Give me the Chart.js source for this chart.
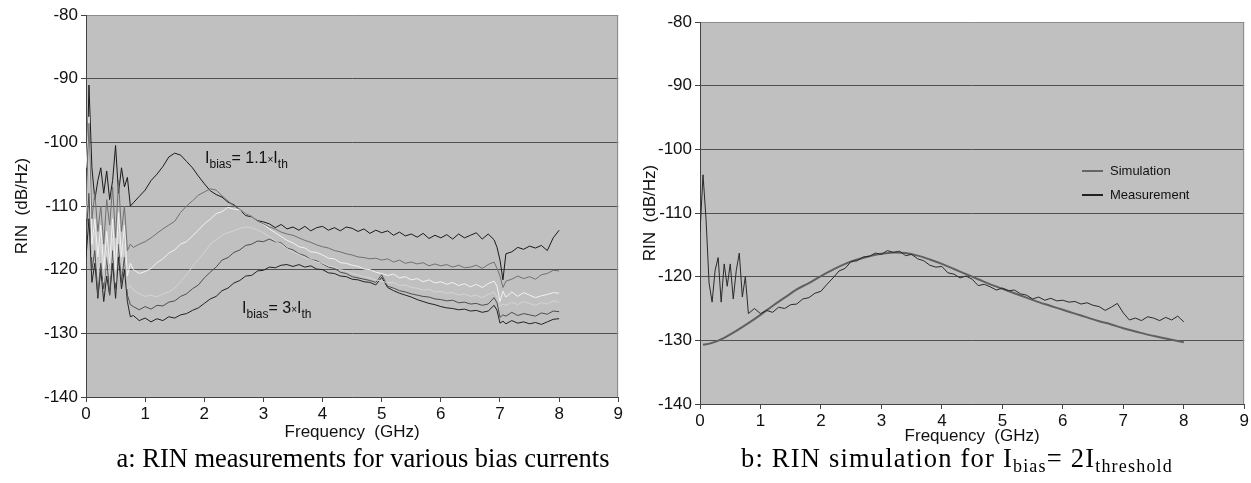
<!DOCTYPE html>
<html><head><meta charset="utf-8">
<script src="https://cdn.jsdelivr.net/npm/chart.js@4.4.1/dist/chart.umd.min.js"></script>
<style>
body{margin:0;background:#fff;width:1251px;height:483px;overflow:hidden;position:relative;font-family:"Liberation Sans",Arial,sans-serif;}
canvas{position:absolute;top:0}
.ann{position:absolute;font-size:16px;line-height:16px;color:#111;white-space:nowrap}
.ann .s{font-size:12px;position:relative;top:5px}
.ann .x{font-size:10px}
.cap{position:absolute;font-family:"Liberation Serif","Times New Roman",serif;font-size:26.5px;line-height:26px;color:#000;white-space:nowrap;text-align:center;width:640px}
.cap .s{font-size:18px;position:relative;top:5px}
.leg{position:absolute;font-size:13px;line-height:13px;color:#111;white-space:nowrap}
.leg i{position:absolute;height:2px;width:21px;left:-28px;top:6px}
</style>
</head><body>
<canvas id="ca" width="625" height="445" style="left:0"></canvas>
<canvas id="cb" width="626" height="452" style="left:625px"></canvas>
<div class="ann" style="left:205px;top:150px">I<span class="s">bias</span>= 1.1<span class="x">×</span>I<span class="s">th</span></div>
<div class="ann" style="left:242px;top:300px">I<span class="s">bias</span>= 3<span class="x">×</span>I<span class="s">th</span></div>
<div class="leg" style="left:1110px;top:164px"><i style="background:#666"></i>Simulation</div>
<div class="leg" style="left:1110px;top:188px"><i style="background:#222"></i>Measurement</div>
<div class="cap" style="left:43px;top:445px">a: RIN measurements for various bias currents</div>
<div class="cap" style="left:637px;top:445px;letter-spacing:1.2px">b: RIN simulation for I<span class="s">bias</span>= 2I<span class="s">threshold</span></div>
<script>
// ---- Chart a: measurements (GHz / dB/Hz)
const freqA = [0,0.05,0.1,0.15,0.2,0.25,0.3,0.35,0.4,0.45,0.5,0.55,0.6,0.65,0.7,0.75,0.8,
 0.9,1.0,1.1,1.2,1.3,1.4,1.5,1.6,1.7,1.8,1.9,
 2.0,2.1,2.2,2.3,2.4,2.5,2.6,2.7,2.8,2.9,
 3.0,3.1,3.2,3.3,3.4,3.5,3.6,3.7,3.8,3.9,
 4.0,4.1,4.2,4.3,4.4,4.5,4.6,4.7,4.8,4.9,
 5.0,5.1,5.2,5.3,5.4,5.5,5.6,5.7,5.8,5.9,
 6.0,6.1,6.2,6.3,6.4,6.5,6.6,6.7,6.8,6.9,
 6.95,7.0,7.05,
 7.1,7.2,7.3,7.4,7.5,7.6,7.7,7.8,7.9,8.0];
const rin11 = [-112,-91,-104,-109,-106,-104,-108,-104.5,-109,-106,-100.5,-108,-104,-107,-105.5,-110,-109.5,
 -108.5,-107.5,-106,-105,-103.8,-102.3,-101.7,-102,-103,-104,-105.3,
 -106.5,-107.6,-108.2,-108.6,-109.4,-109.8,-110.6,-111.5,-111.7,-112.3,
 -112.5,-112.8,-113.4,-112.9,-113.6,-113.3,-113.8,-113.2,-113.9,-113.4,
 -113.2,-113.8,-113.4,-113.9,-113.3,-113.5,-114,-113.6,-114.3,-113.8,
 -114.2,-113.9,-114.6,-114.1,-114.7,-114.4,-114.9,-114.3,-115.1,-114.6,
 -115,-114.5,-115.2,-114.4,-115,-114.6,-114.2,-115.2,-114.4,-115.3,
 -116.5,-118.5,-121.6,
 -117.5,-117.2,-116.5,-116.8,-116.3,-116.6,-116.2,-117,-115,-113.8];
const rinB = [-110,-97,-112,-108,-114,-110,-116,-109,-113,-107,-115,-106,-114,-110,-117,-116,-116.5,
 -116,-115.6,-115,-114.3,-113.6,-113,-112.4,-111,-110,-109.2,-108.3,
 -107.8,-107.3,-107.5,-108.4,-109.2,-110,-110.5,-111.2,-111.6,-112.4,
 -112.8,-113.3,-113.6,-114.1,-114.4,-114.6,-115,-115.4,-115.7,-116.1,
 -116.4,-116.6,-117,-117.2,-117.5,-117.7,-118,-118.1,-118.3,-118.2,
 -118.5,-118.3,-118.8,-118.5,-119,-118.8,-119.1,-118.9,-119.4,-119.1,
 -119.4,-119.2,-119.6,-119.3,-119.7,-119.6,-119.3,-119.8,-119.2,-118.8,
 -119.8,-121,-122.8,
 -121.8,-121.5,-121,-121.4,-121.1,-121.5,-120.8,-120.6,-120.1,-120.2];
const rinC = [-104,-96,-116,-112,-118,-113,-120,-114,-119,-112,-120,-111,-118,-113,-121,-119,-120,
 -120.6,-120.3,-119.8,-118.9,-118.3,-117.4,-116.9,-116,-115.6,-114.7,-113.8,
 -112.8,-112.1,-111.2,-110.9,-110.2,-110.5,-110.6,-111.2,-111.6,-112.4,
 -112.9,-113.6,-114.2,-114.8,-115.4,-115.8,-116.4,-116.6,-117.2,-117.3,
 -117.7,-118.2,-118.3,-118.9,-119,-119.3,-119.5,-119.9,-120,-120.4,
 -120.6,-120.9,-120.7,-121.3,-121.1,-121.6,-121.4,-121.9,-121.6,-122.1,
 -121.9,-122.3,-122,-122.5,-122.2,-122.7,-122.3,-122.8,-122.2,-121.8,
 -122.6,-125,-123.4,
 -124.3,-123.5,-124.2,-123.6,-124,-124.4,-124.1,-123.9,-123.6,-123.7];
const rinD = [-112,-100,-118,-114,-121,-116,-122,-117,-121,-115,-122,-114,-120,-116,-123,-122.5,-123.2,
 -123.8,-124.2,-124,-124.3,-123.8,-123.5,-122.9,-121.9,-120.8,-119.5,-118.4,
 -117.3,-116,-115.3,-114.6,-114.2,-113.9,-113.5,-113.3,-113.4,-113.8,
 -114.2,-114.8,-115.5,-116,-116.7,-117.2,-117.6,-118.1,-118.4,-118.8,
 -119,-119.4,-119.6,-120,-120.2,-120.6,-120.8,-121.1,-121.3,-121.6,
 -121.8,-122.1,-122,-122.5,-122.4,-122.8,-122.9,-123.2,-123.1,-123.5,
 -123.4,-123.7,-123.6,-124,-123.8,-124.2,-124,-124.4,-123.9,-123.5,
 -124.3,-125.8,-125.4,
 -125.6,-125.1,-125.5,-125,-125.3,-125.6,-125.2,-125.4,-124.9,-125.1];
const rinE = [-115,-108,-120,-117,-124,-119,-123,-118,-124,-117,-123,-116,-122,-118,-124,-125.5,-125.8,
 -126.3,-125.8,-126.2,-125.6,-125.7,-125.1,-124.9,-124.2,-123.8,-123,-122.4,
 -121.3,-120.4,-119.6,-118.5,-118.1,-117.3,-116.9,-116.2,-116,-115.5,
 -115.6,-115.2,-115.6,-115.8,-116.6,-116.9,-117.5,-117.8,-118.4,-118.6,
 -119.1,-119.6,-119.8,-120.4,-120.6,-121.1,-121.3,-121.5,-121.7,-122,
 -120.8,-122.6,-122.9,-123.3,-123.5,-123.8,-124,-124.2,-124.3,-124.6,
 -124.7,-124.9,-124.8,-125.2,-125.1,-125.4,-125.3,-125.6,-125.4,-124.4,
 -125.2,-127.5,-127.1,
 -127.3,-126.7,-127.2,-126.9,-127.1,-127.3,-126.8,-127,-126.5,-126.6];
const rin30 = [-118,-112,-122,-119,-124.5,-120,-125,-121,-124,-119,-124.5,-118,-123,-120,-125,-127.4,-127.2,
 -128,-127.6,-128.2,-127.7,-128,-127.4,-127.6,-127.1,-126.9,-126.4,-126,
 -125.3,-124.6,-124.2,-123.3,-122.9,-122.1,-121.7,-121,-120.9,-120.2,
 -120.1,-119.6,-119.7,-119.3,-119.2,-119.5,-119.2,-119.6,-119.4,-119.9,
 -120,-120.5,-120.6,-121,-121.1,-121.5,-121.6,-121.9,-122,-122.4,
 -121.2,-122.8,-123.3,-123.7,-124,-124.3,-124.7,-125,-125.3,-125.5,
 -125.8,-126,-126.1,-126.3,-126.2,-126.5,-126.4,-126.7,-126.5,-125.6,
 -126.4,-128.4,-128.1,
 -128.5,-128,-128.4,-128.2,-128.5,-128.3,-128.6,-128.2,-127.8,-127.7];

// ---- Chart b: simulation vs measurement
const freqB = [0,0.05,0.1,0.15,0.2,0.25,0.3,0.35,0.4,0.45,0.5,0.55,0.6,0.65,0.7,0.75,0.8,
 0.9,1.0,1.1,1.2,1.3,1.4,1.5,1.6,1.7,1.8,1.9,
 2.0,2.1,2.2,2.3,2.4,2.5,2.6,2.7,2.8,2.9,
 3.0,3.1,3.2,3.3,3.4,3.5,3.6,3.7,3.8,3.9,
 4.0,4.1,4.2,4.3,4.4,4.5,4.6,4.7,4.8,4.9,
 5.0,5.1,5.2,5.3,5.4,5.5,5.6,5.7,5.8,5.9,
 6.0,6.1,6.2,6.3,6.4,6.5,6.6,6.7,6.8,6.9,
 7.0,7.1,7.2,7.3,7.4,7.5,7.6,7.7,7.8,7.9,8.0];
const measB = [-113,-104,-111,-121,-124,-119,-117,-124,-118,-121.5,-118,-123.5,-119,-116.3,-123.2,-120,-125.8,
 -125,-125.8,-125.3,-125.6,-124.8,-125,-124.4,-124.3,-123.5,-123.3,-122.6,
 -122.3,-121.2,-120.2,-119.1,-118.7,-117.6,-117.5,-116.9,-116.8,-116.3,
 -116.5,-115.9,-116.2,-116,-116.7,-116.5,-117.2,-117.5,-118.2,-118.5,
 -118.4,-119.4,-119.6,-120.2,-119.9,-120.4,-121.4,-121.2,-121.6,-122.1,
 -121.8,-122.2,-122.1,-122.7,-122.9,-123.5,-123.2,-123.7,-123.4,-123.8,
 -123.7,-124,-123.9,-124.3,-124.1,-124.5,-124.7,-125.3,-124.8,-124.2,
 -125.7,-126.8,-126.5,-126.9,-126.3,-126.5,-126.9,-126.4,-126.8,-126.2,-127.1];
const freqS = [0.05,0.2,0.4,0.6,0.8,1.0,1.2,1.4,1.6,1.8,2.0,2.2,2.4,2.6,2.8,3.0,3.2,3.4,3.6,3.8,
 4.0,4.2,4.4,4.6,4.8,5.0,5.2,5.4,5.6,5.8,6.0,6.2,6.4,6.6,6.8,7.0,7.2,7.4,7.6,7.8,8.0];
const simS = [-130.7,-130.4,-129.6,-128.5,-127.3,-126,-124.6,-123.3,-122,-121,-119.9,-118.9,-118,-117.3,-116.8,-116.4,-116.2,-116.3,-116.7,-117.3,
 -118,-118.8,-119.6,-120.4,-121.2,-121.9,-122.6,-123.3,-124,-124.6,-125.2,-125.8,-126.4,-127,-127.5,-128.1,-128.6,-129.1,-129.5,-129.9,-130.3];

const xTicks = [0,1,2,3,4,5,6,7,8,9];
const yTicks = [-140,-130,-120,-110,-100,-90,-80];
const xTitle = 'Frequency  (GHz)';
const yTitle = 'RIN  (dB/Hz)';

function pts(xs, ys){ return xs.map((x,i)=>({x:x, y:ys[i]})); }

Chart.defaults.font.family = '"Liberation Sans", Arial, sans-serif';
Chart.defaults.color = '#111';

const plotBg = {
  id:'plotBg',
  beforeDraw(c){ const a=c.chartArea, ctx=c.ctx; ctx.save(); ctx.fillStyle='#c0c0c0'; ctx.fillRect(a.left,a.top,a.right-a.left,a.bottom-a.top); ctx.restore(); },
  beforeDatasetsDraw(c){ const a=c.chartArea, ctx=c.ctx; ctx.save(); ctx.strokeStyle='#8c8c8c'; ctx.lineWidth=1; ctx.beginPath(); ctx.moveTo(Math.round(a.right)-0.5,a.top); ctx.lineTo(Math.round(a.right)-0.5,a.bottom); ctx.stroke(); ctx.restore(); }
};

function makeChart(id, datasets, o){
  return new Chart(document.getElementById(id), {
    type:'line',
    data:{datasets:datasets},
    options:{
      responsive:false, animation:false, events:[],
      layout:{padding:{top:o.top,right:o.right,left:0,bottom:0}},
      plugins:{legend:{display:false}, tooltip:{enabled:false}},
      elements:{point:{radius:0}, line:{borderWidth:1, tension:0}},
      scales:{
        x:{type:'linear', min:0, max:9,
           afterBuildTicks(s){ s.ticks = xTicks.map(v=>({value:v})); },
           ticks:{padding:2, color:'#111', font:{size:17}},
           grid:{drawOnChartArea:false, drawTicks:true, tickLength:5, tickColor:'#444'},
           border:{color:'#444', width:1},
           title:{display:true, text:xTitle, color:'#111', font:{size:17}, padding:{top:0,bottom:o.xtb}},
           afterFit(s){ s.height = 48; }},
        y:{type:'linear', min:-140, max:-80,
           afterBuildTicks(s){ s.ticks = yTicks.map(v=>({value:v})); },
           ticks:{padding:3, color:'#111', font:{size:17}},
           grid:{color:(c)=> (c.tick && c.tick.value===-80) ? '#8c8c8c' : '#505050', tickLength:5, tickColor:'#444'},
           border:{color:'#444', width:1},
           title:{display:true, text:yTitle, color:'#111', font:{size:17}, padding:{top:o.ytp,bottom:0}},
           afterFit(s){ s.width = o.yw; }}
      }
    },
    plugins:[plotBg]
  });
}

makeChart('ca', [
  {data:pts(freqA, rinB),  borderColor:'#707070'},
  {data:pts(freqA, rinC),  borderColor:'#f2f2f2'},
  {data:pts(freqA, rinD),  borderColor:'#d4d4d4'},
  {data:pts(freqA, rinE),  borderColor:'#4e4e4e'},
  {data:pts(freqA, rin30), borderColor:'#222222'},
  {data:pts(freqA, rin11), borderColor:'#1a1a1a'}
], {top:15, right:4, yw:86, ytp:12, xtb:2});

makeChart('cb', [
  {data:pts(freqB, measB), borderColor:'#2a2a2a'},
  {data:pts(freqS, simS),  borderColor:'#606060', borderWidth:2, tension:0.4}
], {top:22, right:6, yw:75, ytp:15, xtb:5});
</script>
</body></html>
